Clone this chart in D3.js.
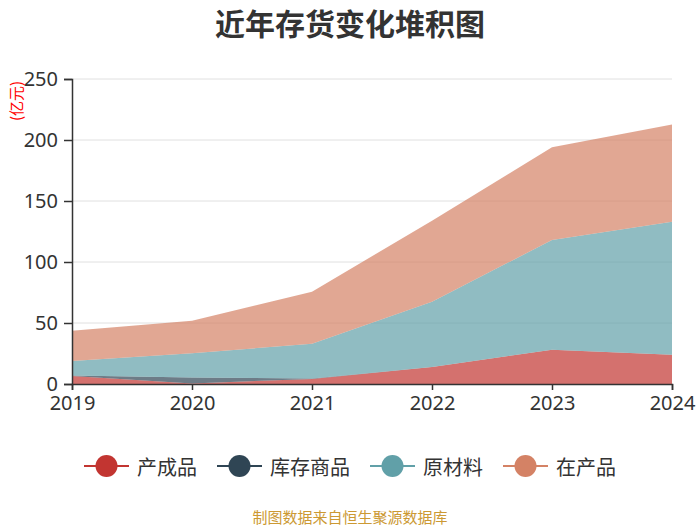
<!DOCTYPE html>
<html>
<head>
<meta charset="utf-8">
<script src="https://cdn.jsdelivr.net/npm/d3@7"></script>
<style>
  body { margin: 0; background: #fff; }
  svg { font-family: "Noto Sans CJK SC", "Noto Sans", sans-serif; }
</style>
</head>
<body>
<div id="graf"></div>
<script>
const anios = ['2019', '2020', '2021', '2022', '2023', '2024']
const chanchengpin = [6.6, 0.4, 4.2, 14.0, 28.0, 24.0]
const kucunshangpin = [0.4, 5.0, 0.4, 0, 0, 0]
const yuancailiao = [11.8, 19.8, 28.4, 53.5, 90.0, 109.0]
const zaichanpin = [24.9, 26.7, 42.7, 66.3, 76.0, 79.8]
const series = ['产成品', '库存商品', '原材料', '在产品']
const colores = ['#c23531', '#2f4554', '#61a0a8', '#d48265']
const yTicks = [0, 50, 100, 150, 200, 250]

const ancho = 700
const alto = 525

const svg = d3.select('#graf')
  .append('svg')
  .attr('width', ancho)
  .attr('height', alto)

const filas = anios.map((a, i) => ({
  anio: a,
  '产成品': chanchengpin[i],
  '库存商品': kucunshangpin[i],
  '原材料': yuancailiao[i],
  '在产品': zaichanpin[i]
}))

const x = d3.scalePoint().domain(anios).range([72, 672])
const y = d3.scaleLinear().domain([0, 250]).range([384, 79])

// grid
svg.append('g')
  .selectAll('line')
  .data(yTicks.slice(1))
  .enter()
  .append('line')
  .attr('x1', 72).attr('x2', 672)
  .attr('y1', d => y(d)).attr('y2', d => y(d))
  .attr('stroke', '#e0e0e0')
  .attr('stroke-width', 1)

const stack = d3.stack().keys(series)(filas)

const area = d3.area()
  .x(d => x(d.data.anio))
  .y0(d => y(d[0]))
  .y1(d => y(d[1]))

svg.append('g')
  .selectAll('path')
  .data(stack)
  .enter()
  .append('path')
  .attr('d', area)
  .attr('fill', (d, i) => colores[i])
  .attr('fill-opacity', 0.7)

// ejes
const xAxis = d3.axisBottom(x).tickSizeOuter(0).tickSize(6).tickPadding(6)
const gx = svg.append('g')
  .attr('transform', 'translate(0, 384)')
  .call(xAxis)
gx.select('.domain').attr('stroke', '#333').attr('stroke-width', 1.5)
gx.selectAll('.tick line').attr('stroke', '#333').attr('stroke-width', 1.5)
gx.selectAll('.tick text')
  .attr('fill', '#333')
  .style('font-size', '20px')
  .style('font-family', '"Noto Sans", sans-serif')

const yAxis = d3.axisLeft(y).tickValues(yTicks).tickSizeOuter(0).tickSize(8).tickPadding(6)
const gy = svg.append('g')
  .attr('transform', 'translate(72, 0)')
  .call(yAxis)
gy.select('.domain').attr('stroke', '#333').attr('stroke-width', 1.5)
gy.selectAll('.tick line').attr('stroke', '#333').attr('stroke-width', 1.5)
gy.selectAll('.tick text')
  .attr('fill', '#333')
  .style('font-size', '20px')
  .style('font-family', '"Noto Sans", sans-serif')

svg.append('text')
  .attr('transform', 'translate(15, 101) rotate(-90)')
  .attr('text-anchor', 'middle')
  .attr('dominant-baseline', 'central')
  .attr('fill', '#ff0000')
  .style('font-size', '15px')
  .text('(亿元)')

// titulo
svg.append('text')
  .attr('x', 350)
  .attr('y', 22)
  .attr('text-anchor', 'middle')
  .attr('dominant-baseline', 'central')
  .attr('fill', '#333')
  .style('font-size', '30px')
  .style('font-weight', 'bold')
  .text('近年存货变化堆积图')

// leyenda
const leyenda = svg.append('g')
let cursor = 0
const items = []
series.forEach((s, i) => {
  const g = leyenda.append('g')
  g.append('line')
    .attr('x1', 0).attr('x2', 45)
    .attr('y1', 0).attr('y2', 0)
    .attr('stroke', colores[i])
    .attr('stroke-width', 2)
  g.append('circle')
    .attr('cx', 22.5).attr('cy', 0).attr('r', 11)
    .attr('fill', colores[i])
  const t = g.append('text')
    .attr('x', 53)
    .attr('y', 0)
    .attr('dominant-baseline', 'central')
    .attr('fill', '#333')
    .style('font-size', '20px')
    .text(s)
  const w = 53 + t.node().getComputedTextLength()
  g.attr('transform', `translate(${cursor}, 0)`)
  cursor += w + 20
})
const totalLeyenda = cursor - 20
leyenda.attr('transform', `translate(${350 - totalLeyenda / 2}, 466)`)

svg.append('text')
  .attr('x', 350)
  .attr('y', 516)
  .attr('text-anchor', 'middle')
  .attr('dominant-baseline', 'central')
  .attr('fill', '#cc9933')
  .style('font-size', '15px')
  .text('制图数据来自恒生聚源数据库')
</script>
</body>
</html>
